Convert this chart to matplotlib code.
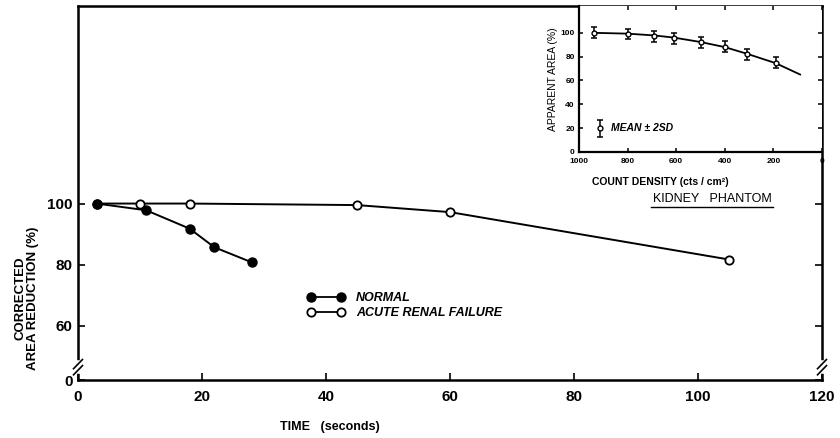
import matplotlib
matplotlib.use("Agg")
from matplotlib import pyplot as plt
from matplotlib.lines import Line2D

plt.rcParams['font.family'] = ['Liberation Sans', 'DejaVu Sans']
plt.rcParams['font.weight'] = 'bold'

# main chart data
normal_t = [3, 11, 18, 22, 28]
normal_v = [100, 97.8, 91.8, 85.7, 80.8]
arf_t = [3, 10, 18, 45, 60, 105]
arf_v = [100, 100, 100, 99.5, 97.2, 81.7]

x_ticks = [0, 20, 40, 60, 80, 100, 120]
y_ticks = [60, 80, 100]

# inset (kidney phantom) data
density = [940, 800, 690, 610, 500, 400, 310, 190]
area = [100, 99, 97, 95.5, 92, 88.5, 82, 75]
area_err = [4.5, 4.5, 4.5, 4.5, 4.5, 4.5, 4.5, 4.5]
fit_x = [940, 800, 690, 610, 500, 400, 310, 190, 90]
fit_y = [100, 99.3, 97.8, 96, 92.3, 88, 82.5, 74.5, 65]

fig = plt.figure(figsize=(8.4, 4.38), dpi=100)
W, H = 840, 438

def fx(px):
    return px / W

def fy(py):
    return 1 - py / H

ax = fig.add_axes([fx(78), fy(380), fx(822) - fx(78), fy(6) - fy(380)])
ymin, ymax = 42.3, 164.6
ax.set_xlim(0, 120)
ax.set_ylim(ymin, ymax)

ax.plot(arf_t, arf_v, color='black', lw=1.4, marker='o', ms=6,
        mfc='white', mec='black', mew=1.3, zorder=3)
ax.plot(normal_t, normal_v, color='black', lw=1.4, marker='o', ms=6.5,
        mfc='black', mec='black', zorder=4)

ax.set_xticks(x_ticks)
ax.set_xticklabels([str(t) for t in x_ticks], fontsize=11)
ax.set_yticks([ymin] + y_ticks)
ax.set_yticklabels(['0'] + [str(v) for v in y_ticks], fontsize=11)
ax.tick_params(direction='in', length=5, width=1.2, right=True, pad=4)
ax.tick_params(axis='x', pad=7)
for s in ax.spines.values():
    s.set_linewidth(1.8)

# axis break marks on both sides
ybreak = 46.5
for xa in (0, 1):
    ax.plot([xa, xa], [ybreak - 1.2, ybreak + 1.2], color='white', lw=4,
            transform=ax.get_yaxis_transform(), clip_on=False, zorder=5)
    for dy in (-1.0, 1.0):
        ax.plot([xa - 0.006, xa + 0.006], [ybreak + dy - 1.5, ybreak + dy + 1.5],
                color='black', lw=1.2, transform=ax.get_yaxis_transform(),
                clip_on=False, zorder=6)

legend_handles = [
    Line2D([], [], color='black', lw=1.3, marker='o', ms=6.5, mfc='black'),
    Line2D([], [], color='black', lw=1.3, marker='o', ms=6, mfc='white', mew=1.3),
]
ax.legend(legend_handles, ['NORMAL', 'ACUTE RENAL FAILURE'], numpoints=2,
          frameon=False, loc='upper left', handlelength=3.0, handletextpad=0.9,
          labelspacing=0.25, prop={'style': 'italic', 'weight': 'bold', 'size': 9},
          bbox_to_anchor=(fx(296), fy(281)), bbox_transform=fig.transFigure)

fig.text(fx(27), fy(298), 'CORRECTED\nAREA REDUCTION (%)', rotation=90,
         ha='center', va='center', fontsize=9.5, linespacing=1.05)
fig.text(fx(330), fy(427), 'TIME   (seconds)', ha='center', va='center', fontsize=9)

# inset
ins = fig.add_axes([fx(579), fy(152), fx(822) - fx(579), fy(6) - fy(152)])
ins.set_xlim(1000, 0)
ins.set_ylim(0, 122.5)
ins.plot(fit_x, fit_y, color='black', lw=1.3)
ins.errorbar(density, area, yerr=area_err, fmt='o', ms=3.5, mfc='white',
             mec='black', ecolor='black', elinewidth=1.1, capsize=2, capthick=1.1)
ins.errorbar([915], [20], yerr=[7], fmt='o', ms=3.5, mfc='white', mec='black',
             ecolor='black', elinewidth=1.1, capsize=2, capthick=1.1)
ins.text(870, 20, 'MEAN \u00b1 2SD', ha='left', va='center', fontsize=7.5,
         style='italic', weight='bold')
ins.set_xticks([1000, 800, 600, 400, 200, 0])
ins.set_xticklabels(['1000', '800', '600', '400', '200', '0'], fontsize=6)
ins.set_yticks([0, 20, 40, 60, 80, 100])
ins.set_yticklabels(['0', '20', '40', '60', '80', '100'], fontsize=6)
ins.tick_params(direction='in', length=3, width=1.1, top=True, right=True, pad=2)
ins.tick_params(axis='x', pad=4)
ins.tick_params(axis='y', pad=3)
ins.spines['top'].set_visible(False)
ins.spines['right'].set_visible(False)
for s in ('left', 'bottom'):
    ins.spines[s].set_linewidth(1.6)
ins.set_ylabel('APPARENT AREA (%)', fontsize=7.5, labelpad=2)
fig.text(fx(660), fy(182), 'COUNT DENSITY (cts / cm\u00b2)', ha='center',
         va='center', fontsize=7.5)
fig.text(fx(712), fy(199), 'KIDNEY   PHANTOM', ha='center', va='center',
         fontsize=9, weight='normal')
fig.add_artist(Line2D([fx(651), fx(773)], [fy(207), fy(207)], color='black', lw=1.0))

fig.savefig('out.png', dpi=100)
